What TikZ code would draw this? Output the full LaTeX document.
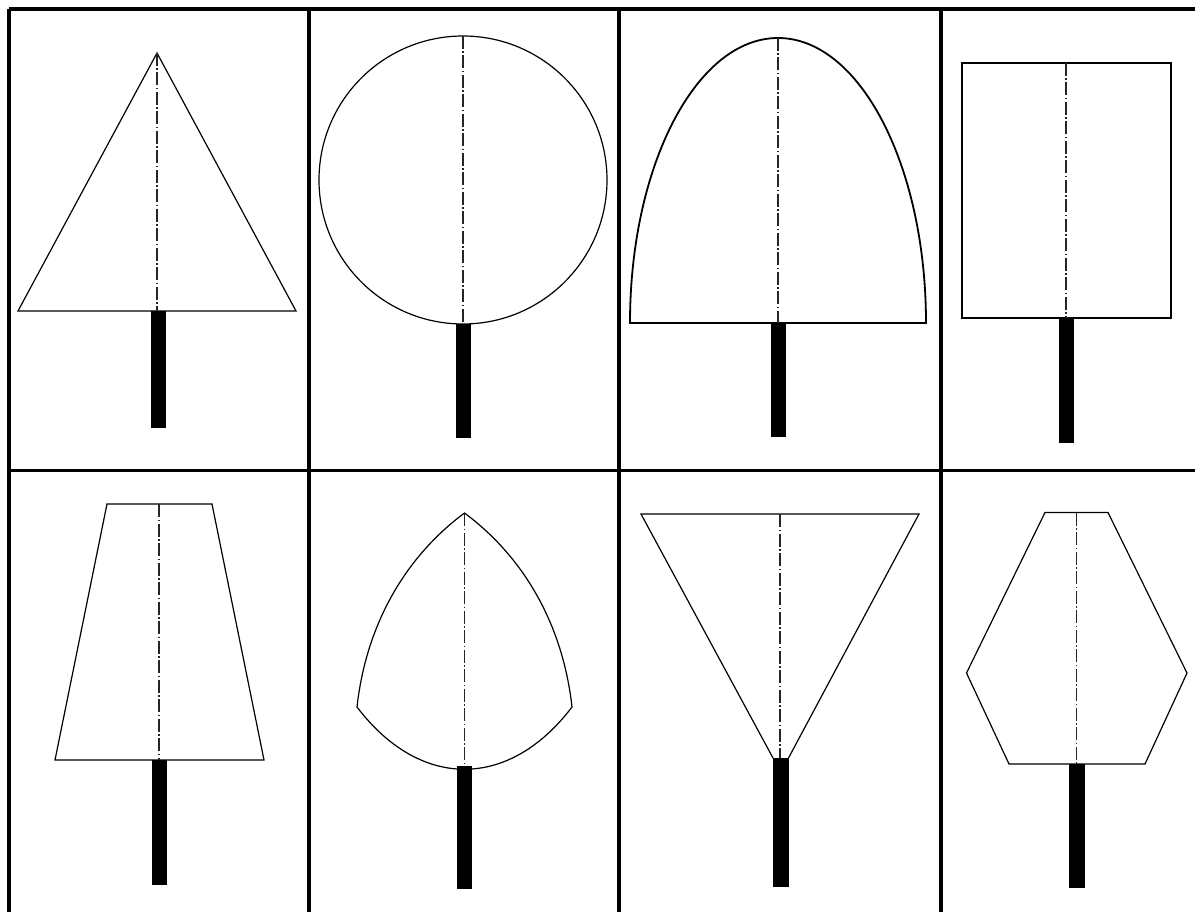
\documentclass[tikz,border=0pt]{standalone}
\begin{document}
\begin{tikzpicture}[x=1pt,y=-1pt,
  grid/.style={line width=3.5pt,black},
  crown/.style={line width=1.2pt,black,line join=miter},
  axisline/.style={line width=1.1pt,black!85,dash pattern=on 13pt off 2.5pt on 1.5pt off 2.5pt},
  trunk/.style={fill=black,draw=none}]
\useasboundingbox (0,0) rectangle (1195,912);
\fill[white] (0,0) rectangle (1195,912);
% grid
\draw[grid] (9,9) -- (1195,9);
\draw[grid] (9,470.5) -- (1195,470.5);
\draw[grid] (9,9) -- (9,912);
\draw[grid] (309,9) -- (309,912);
\draw[grid] (619,9) -- (619,912);
\draw[grid] (941,9) -- (941,912);
% cell 1: triangle
\draw[crown] (157,53) -- (296,311) -- (18,311) -- cycle;
\draw[axisline] (157,53) -- (157,311);
\fill[trunk] (151,311) rectangle (166,428);
% cell 2: circle
\draw[crown] (463,180) circle[radius=144];
\draw[axisline] (463,36) -- (463,324);
\fill[trunk] (456,324) rectangle (471,438);
% cell 3: half ellipse
\draw[line width=1.8pt] (630,323) arc[start angle=180,end angle=360,x radius=148,y radius=285] -- cycle;
\draw[axisline] (778,38) -- (778,323);
\fill[trunk] (771,323) rectangle (786,437);
% cell 4: rectangle
\draw[crown] (962,63) rectangle (1171,318);
\draw[axisline] (1066,63) -- (1066,318);
\fill[trunk] (1059,318) rectangle (1074,443);
% cell 5: trapezoid
\draw[crown] (107,504) -- (212,504) -- (264,760) -- (55,760) -- cycle;
\draw[axisline] (159,504) -- (159,760);
\fill[trunk] (152,760) rectangle (167,885);
% cell 6: arch
\draw[crown] (464.5,513) .. controls (404,558) and (366,626) .. (357,707)
  .. controls (420,790) and (509,790) .. (572,707)
  .. controls (563,626) and (525,558) .. cycle;
\draw[axisline] (464.5,513) -- (464.5,766);
\fill[trunk] (457,766) rectangle (472,889);
% cell 7: inverted triangle
\draw[crown] (773,758) -- (641,514) -- (919,514) -- (788.5,758);
\draw[axisline] (780,514) -- (780,758);
\fill[trunk] (773,758) rectangle (788.5,887);
% cell 8: hexagon
\draw[crown] (1045,512.5) -- (1108,512.5) -- (1187,673) -- (1145,764) -- (1009,764) -- (966.5,673) -- cycle;
\draw[axisline] (1076.5,512.5) -- (1076.5,764);
\fill[trunk] (1069,764) rectangle (1084.5,888);
\end{tikzpicture}
\end{document}
